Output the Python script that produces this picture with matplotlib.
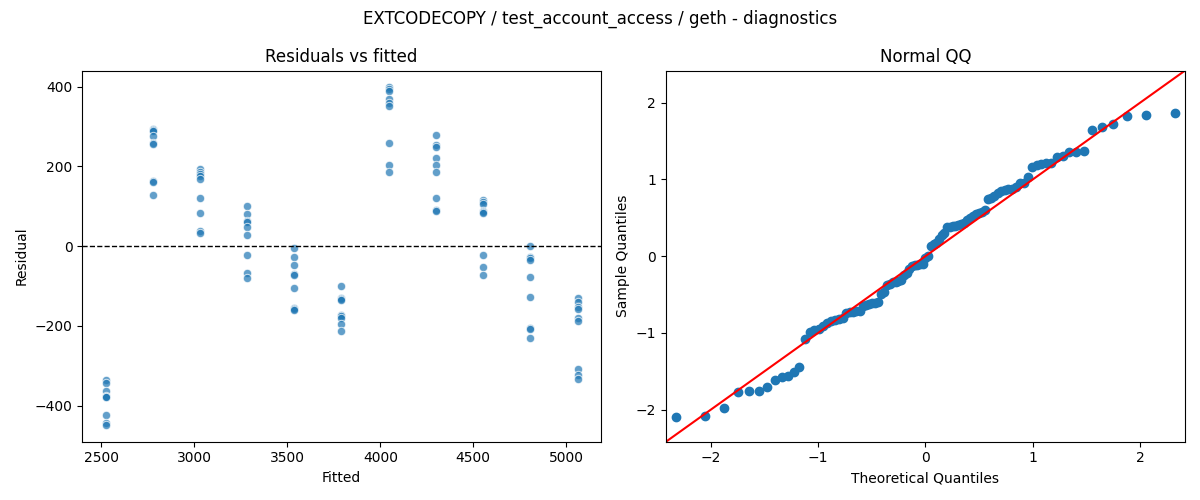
import numpy as np
import matplotlib
matplotlib.use("Agg")
import matplotlib.pyplot as plt
from statistics import NormalDist

# fitted value of each group (x positions)
fitted_levels = [2523, 2776, 3029, 3281, 3534, 3787, 4045, 4297, 4550, 4803, 5061]

# residuals, 9 per fitted level
resid_groups = [
    [-336, -344, -364, -375, -377, -378, -424, -444, -448],
    [293, 291, 289, 277, 259, 255, 163, 160, 128],
    [193, 187, 182, 175, 168, 120, 82, 37, 34],
    [100, 80, 63, 60, 47, 29, -23, -66, -81],
    [-4, -26, -48, -70, -72, -106, -154, -157, -159],
    [-100, -130, -133, -136, -172, -176, -179, -195, -212],
    [398, 394, 390, 368, 360, 351, 258, 204, 185],
    [278, 253, 248, 220, 204, 187, 122, 91, 89],
    [117, 112, 107, 87, 85, 83, -23, -53, -71],
    [1, -26, -29, -35, -78, -128, -204, -207, -231],
    [-131, -139, -153, -157, -181, -187, -309, -324, -334],
]

fitted = np.repeat(fitted_levels, [len(g) for g in resid_groups])
resid = np.concatenate(resid_groups).astype(float)

fig, (ax1, ax2) = plt.subplots(1, 2, figsize=(12, 5), dpi=100)

# Residuals vs fitted
ax1.scatter(fitted, resid, s=36, color="C0", alpha=0.7, edgecolors="white", linewidths=0.75)
ax1.axhline(0, color="black", linestyle="--", linewidth=1)
ax1.set_xlabel("Fitted")
ax1.set_ylabel("Residual")
ax1.set_title("Residuals vs fitted")

# Normal QQ (standardised residuals vs normal quantiles)
n = len(resid)
sample_q = np.sort((resid - resid.mean()) / resid.std())
theo_q = np.array([NormalDist().inv_cdf(i / (n + 1)) for i in range(1, n + 1)])
ax2.plot(theo_q, sample_q, marker="o", linestyle="None",
         markerfacecolor="C0", markeredgecolor="C0")
lo, hi = -2.42, 2.42
ax2.plot([lo, hi], [lo, hi], "r-")
ax2.set_xlim(lo, hi)
ax2.set_ylim(lo, hi)
ax2.set_xlabel("Theoretical Quantiles")
ax2.set_ylabel("Sample Quantiles")
ax2.set_title("Normal QQ")

fig.suptitle("EXTCODECOPY / test_account_access / geth - diagnostics")
fig.tight_layout()
fig.savefig("out.png")
